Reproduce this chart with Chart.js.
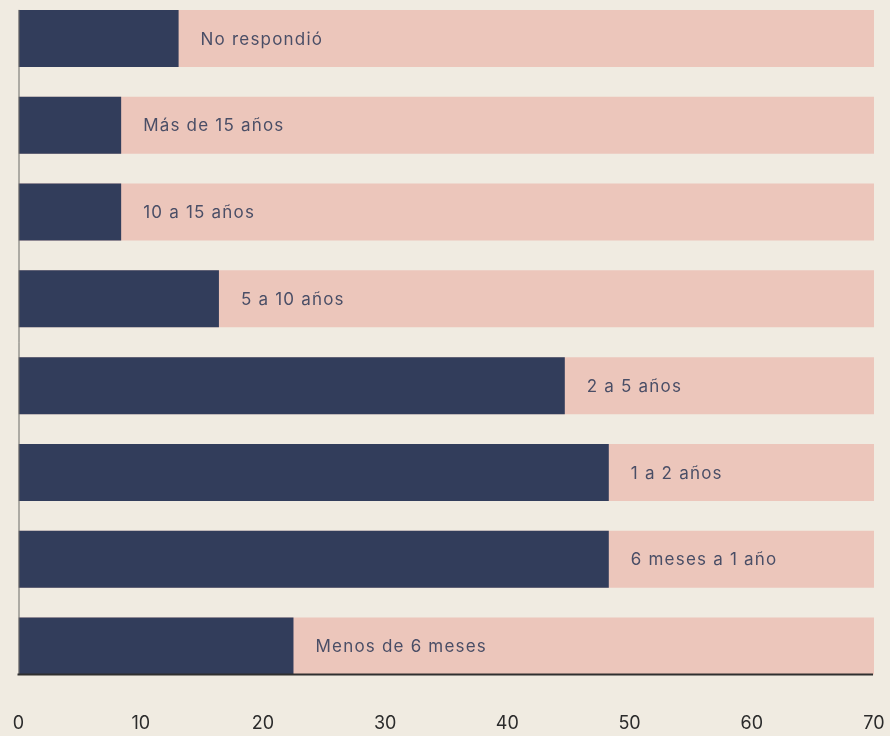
<!DOCTYPE html>
<html>
<head>
<meta charset="utf-8">
<script src="https://cdn.jsdelivr.net/npm/chart.js@4.4.1/dist/chart.umd.min.js"></script>
<style>
  html, body { margin: 0; padding: 0; background: #f0ebe1; overflow: hidden; }
  #wrap { position: absolute; left: 0; top: -5px; width: 890px; height: 741px; }
</style>
</head>
<body>
<div id="wrap"><canvas id="c"></canvas></div>
<script>
const categories = ["No respondió", "Más de 15 años", "10 a 15 años", "5 a 10 años", "2 a 5 años", "1 a 2 años", "6 meses a 1 año", "Menos de 6 meses"];
const values = [13.1, 8.4, 8.4, 16.4, 44.7, 48.3, 48.3, 22.5];
const fullValues = [70, 70, 70, 70, 70, 70, 70, 70];
const xTicks = [0, 10, 20, 30, 40, 50, 60, 70];

const NAVY = "#323d5b";
const PINK = "#ecc6bb";

const overlay = {
  id: "overlay",
  afterDatasetsDraw(chart) {
    const ctx = chart.ctx;
    const xs = chart.scales.x;
    const meta = chart.getDatasetMeta(0);
    const first = meta.data[0];
    const last = meta.data[meta.data.length - 1];
    const x0 = xs.getPixelForValue(0);
    const xEnd = xs.getPixelForValue(70);
    const yTop = first.y - first.height / 2;
    const yBottom = last.y + last.height / 2;
    ctx.save();
    // left axis line
    ctx.strokeStyle = "#6b6a66";
    ctx.lineWidth = 1;
    ctx.beginPath();
    ctx.moveTo(x0 + 0.5, yTop);
    ctx.lineTo(x0 + 0.5, yBottom);
    ctx.stroke();
    // labels
    ctx.font = "17px Inter, 'Noto Sans', sans-serif";
    if ('letterSpacing' in ctx) ctx.letterSpacing = "1.2px";
    ctx.fillStyle = "#4a4e66";
    ctx.textBaseline = "middle";
    ctx.textAlign = "left";
    meta.data.forEach((bar, i) => {
      ctx.fillText(categories[i], bar.x + 22, bar.y + 1);
    });
    if ('letterSpacing' in ctx) ctx.letterSpacing = "0px";
    // bottom axis line
    ctx.strokeStyle = "#2f2f2f";
    ctx.lineWidth = 2;
    ctx.beginPath();
    ctx.moveTo(x0 - 1, yBottom);
    ctx.lineTo(xEnd - 1, yBottom);
    ctx.stroke();
    ctx.restore();
  }
};

new Chart(document.getElementById("c"), {
  type: "bar",
  data: {
    labels: categories,
    datasets: [
      { label: "valor", data: values, backgroundColor: NAVY, grouped: false, order: 0,
        categoryPercentage: 1, barPercentage: 0.657 },
      { label: "total", data: fullValues, backgroundColor: PINK, grouped: false, order: 1,
        categoryPercentage: 1, barPercentage: 0.657 }
    ]
  },
  options: {
    indexAxis: "y",
    responsive: true,
    maintainAspectRatio: false,
    animation: false,
    layout: { padding: { left: 18.5, right: 16, top: 0, bottom: 2.5 } },
    plugins: { legend: { display: false }, tooltip: { enabled: false } },
    scales: {
      x: {
        min: 0, max: 70,
        afterBuildTicks(axis) { axis.ticks = xTicks.map(v => ({ value: v })); },
        afterFit(axis) {
          axis.height = 44;
          axis.paddingLeft = 0; axis.paddingRight = 0;
          axis.paddingTop = 0; axis.paddingBottom = 0;
        },
        grid: { display: false, drawTicks: false },
        border: { display: false },
        ticks: { color: "#2b2b2b", padding: 23, font: { size: 18, family: "Inter, 'Noto Sans', sans-serif" }, maxRotation: 0, minRotation: 0 }
      },
      y: {
        display: false,
        grid: { display: false }
      }
    }
  },
  plugins: [overlay]
});
</script>
</body>
</html>
